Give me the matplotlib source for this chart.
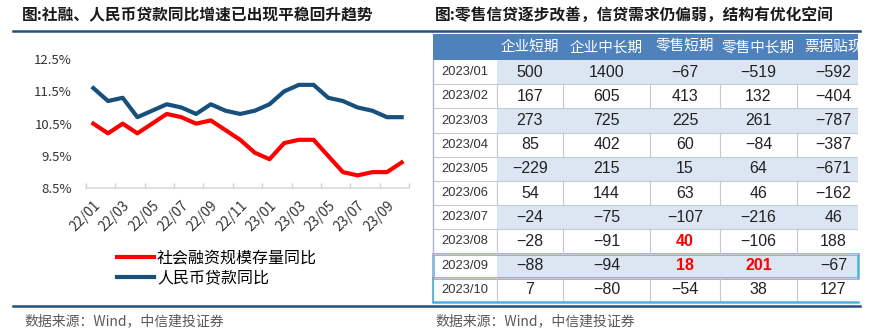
import numpy as np
import matplotlib
matplotlib.use("Agg")
import matplotlib.pyplot as plt
from matplotlib.lines import Line2D
from matplotlib.patches import Rectangle

plt.rcParams['font.family'] = ['Noto Sans CJK SC', 'DejaVu Sans']

# 左图数据
months = ['22/01', '22/02', '22/03', '22/04', '22/05', '22/06', '22/07', '22/08',
          '22/09', '22/10', '22/11', '22/12', '23/01', '23/02', '23/03', '23/04',
          '23/05', '23/06', '23/07', '23/08', '23/09', '23/10']
tsf_yoy = [10.5, 10.2, 10.5, 10.2, 10.5, 10.8, 10.7, 10.5, 10.6, 10.3, 10.0, 9.6,
           9.4, 9.9, 10.0, 10.0, 9.5, 9.0, 8.9, 9.0, 9.0, 9.3]
loan_yoy = [11.6, 11.2, 11.3, 10.7, 10.9, 11.1, 11.0, 10.8, 11.1, 10.9, 10.8, 10.9,
            11.1, 11.5, 11.7, 11.7, 11.3, 11.2, 11.0, 10.9, 10.7, 10.7]
yticks = [8.5, 9.5, 10.5, 11.5, 12.5]

# 右表数据
dates = ['2023/01', '2023/02', '2023/03', '2023/04', '2023/05',
         '2023/06', '2023/07', '2023/08', '2023/09', '2023/10']
col_names = ['企业短期', '企业中长期', '零售短期', '零售中长期', '票据贴现']
corp_short = [500, 167, 273, 85, -229, 54, -24, -28, -88, 7]
corp_long = [1400, 605, 725, 402, 215, 144, -75, -91, -94, -80]
retail_short = [-67, 413, 225, 60, 15, 63, -107, 40, 18, -54]
retail_long = [-519, 132, 261, -84, 64, 46, -216, -106, 201, 38]
bill_disc = [-592, -404, -787, -387, -671, -162, 46, 188, -67, 127]
red_cells = [(7, 2), (8, 2), (8, 3)]

W, H = 870, 334
fig = plt.figure(figsize=(W / 100, H / 100), dpi=100)


def fx(px):
    return px / W


def fy(py):
    return 1 - py / H


dark = '#24507a'
red = '#ff0000'
blue = '#17507d'

# ---- 标题和分隔线
fig.text(fx(22), fy(15), '图:社融、人民币贷款同比增速已出现平稳回升趋势',
         fontsize=11.3, fontweight='bold', va='center', color='#1a1a1a')
fig.text(fx(435), fy(15), '图:零售信贷逐步改善，信贷需求仍偏弱，结构有优化空间',
         fontsize=11.3, fontweight='bold', va='center', color='#1a1a1a')
fig.add_artist(Line2D([fx(13), fx(860)], [fy(31), fy(31)], color=dark, lw=1.8))
fig.add_artist(Line2D([fx(13), fx(860)], [fy(306), fy(306)], color=dark, lw=1.8))
for x0 in (24, 435):
    fig.text(fx(x0), fy(321), '数据来源：Wind，中信建投证券', fontsize=10,
             color='#595959', style='italic', va='center')

# ---- 左侧折线图
ax = fig.add_axes([fx(86), fy(188.3), fx(409) - fx(86), fy(59) - fy(188.3)])
x = np.arange(len(months))
ax.plot(x, tsf_yoy, color=red, lw=3, label='社会融资规模存量同比')
ax.plot(x, loan_yoy, color=blue, lw=3, label='人民币贷款同比')
ax.set_xlim(-0.5, len(months) - 0.5)
ax.set_ylim(yticks[0], yticks[-1])
ax.set_yticks(yticks, [f'{v:.1f}%' for v in yticks])
ax.set_xticks(x[::2], months[::2], rotation=45, ha='right', rotation_mode='anchor')
ax.set_xticks(np.arange(-0.5, len(months), 2), minor=True)
ax.tick_params(axis='y', length=0, pad=10, labelsize=9.5, labelcolor='#333333')
ax.tick_params(axis='x', which='major', length=0, pad=7, labelsize=10, labelcolor='#333333')
ax.tick_params(axis='x', which='minor', length=3.5, direction='in', color='#d0d0d0', width=1)
for s in ('left', 'top', 'right'):
    ax.spines[s].set_visible(False)
ax.spines['bottom'].set_color('#d9d9d9')
ax.spines['bottom'].set_linewidth(1.2)

ax.legend(loc='upper left', bbox_to_anchor=(fx(117), fy(250)), bbox_transform=fig.transFigure,
          frameon=False, fontsize=11.5, handlelength=2.3, handletextpad=0.2,
          labelspacing=0.15, borderpad=0, borderaxespad=0)

# ---- 右侧表格
axt = fig.add_axes([fx(433), fy(302), fx(858) - fx(433), fy(34) - fy(302)])
axt.set_xlim(0, 425)
axt.set_ylim(268, 0)
axt.axis('off')

col_edges = [0, 64, 130, 217, 287, 364, 437]
head_h = 26
row_h = (268 - head_h) / len(dates)
values = [corp_short, corp_long, retail_short, retail_long, bill_disc]

axt.add_patch(Rectangle((0, 0), 437, head_h, facecolor='#4f81bd', edgecolor='none'))
for j, name in enumerate(col_names):
    cx = (col_edges[j + 1] + col_edges[j + 2]) / 2
    axt.text(cx, head_h / 2, name, color='white', fontsize=10.5, ha='center',
             va='center', clip_on=True)

num_font = ['Liberation Sans Narrow', 'Liberation Sans', 'DejaVu Sans']
for i, d in enumerate(dates):
    top = head_h + i * row_h
    if i % 2 == 0:
        axt.add_patch(Rectangle((col_edges[1], top), 437 - col_edges[1], row_h,
                                facecolor='#dce6f2', edgecolor='none'))
    else:
        for e in col_edges[1:6]:
            axt.plot([e, e], [top, top + row_h], color='#c8c8c8', lw=0.8)
    axt.plot([0, 425], [top + row_h, top + row_h], color='#c3cbd6', lw=0.8)
    axt.text(col_edges[1] / 2, top + row_h / 2, d, fontsize=9.3, color='#333333',
             ha='center', va='center', family=num_font)
    for j, col in enumerate(values):
        cx = (col_edges[j + 1] + col_edges[j + 2]) / 2
        v = col[i]
        s = f'{v}'.replace('-', '\u2212')
        is_red = (i, j) in red_cells
        axt.text(cx, top + row_h / 2, s, fontsize=11.5, ha='center', va='center',
                 color=red if is_red else '#222222',
                 fontweight='bold' if is_red else 'normal',
                 family=num_font, clip_on=True)

axt.plot([0, 0], [head_h, 268], color='#a9b7c8', lw=1, clip_on=False)
hl_top = head_h + 8 * row_h
axt.add_patch(Rectangle((0, hl_top), 425, row_h, fill=False, edgecolor='#4fb0e0',
                        lw=1.8, clip_on=False))
axt.plot([0, 425], [268, 268], color='#4fb0e0', lw=1.8, clip_on=False)
axt.plot([0, 0], [hl_top + row_h, 268], color='#4fb0e0', lw=1.2, clip_on=False)

fig.savefig('out.png', dpi=100)
